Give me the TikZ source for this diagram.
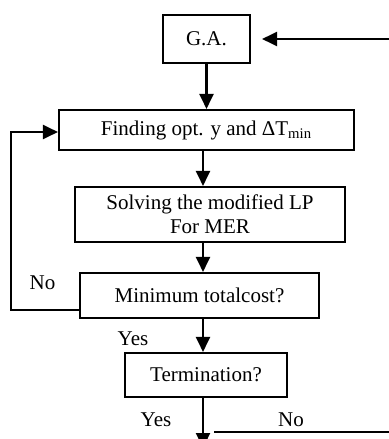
\documentclass[tikz,border=0pt]{standalone}
\usepackage{fontspec}
\setmainfont{Liberation Serif}
\usetikzlibrary{arrows.meta}
\usetikzlibrary{positioning}
\usetikzlibrary{calc}

\tikzset{
	procbox/.style = {draw, line width = 1.05pt, inner sep = 0pt, align = center, font = \fontsize{10.5}{12.2}\selectfont},
	flow/.style = {line width = 1.05pt, -{Triangle[length = 7.5pt, width = 7pt]}},
	tag/.style = {inner sep = 0pt, font = \fontsize{10.5}{12.2}\selectfont}
}

\begin{document}
\begin{tikzpicture}[x = 0.5pt, y = -0.5pt]
		\useasboundingbox (0, 0) rectangle (389, 439);
		\clip (0, 0) rectangle (389, 439);

		\coordinate (spine) at (203, 0);

		\node [procbox, minimum width = 43.5pt, minimum height = 24pt] (ga) at (206.5, 39) {G.A.};
		\node [procbox, minimum width = 147.5pt, minimum height = 20pt] (find) at (206.5, 130) {Finding opt. y and ΔT\textsubscript{min}};
		\node [procbox, minimum width = 135pt, minimum height = 27.5pt] (solve) at (210, 214.5) {Solving the modified LP\\For MER};
		\node [procbox, minimum width = 119.5pt, minimum height = 22.5pt] (mincost) at (199.5, 295.5) {Minimum totalcost?};
		\node [procbox, minimum width = 81pt, minimum height = 22pt] (term) at (206, 375) {Termination?};

		\node [tag] (no1) at (42.5, 283) {No};
		\node [tag] (yes1) at (133, 339) {Yes};
		\node [tag] (yes2) at (156, 420) {Yes};
		\node [tag] (no2) at (291, 420) {No};

		\coordinate (loopleft) at (11, 310);
		\coordinate (nostart) at (214, 432);
		\coordinate (noright) at (400, 432);

		\draw [flow] (ga) -- (ga |- find.north);
		\draw [flow] (find.south -| spine) -- (solve.north -| spine);
		\draw [flow] (solve.south -| spine) -- (mincost.north -| spine);
		\draw [flow] (mincost.south -| spine) -- (term.north -| spine);
		\draw [flow] (term.south -| spine) -- ++(0, 50);
		\draw [flow] (mincost.west |- loopleft) -- (loopleft) |- ([yshift = -1pt]find.west);
		\draw [flow, shorten > = 5.5pt] (nostart) -- (noright) |- (ga.east);
	\end{tikzpicture}
\end{document}
